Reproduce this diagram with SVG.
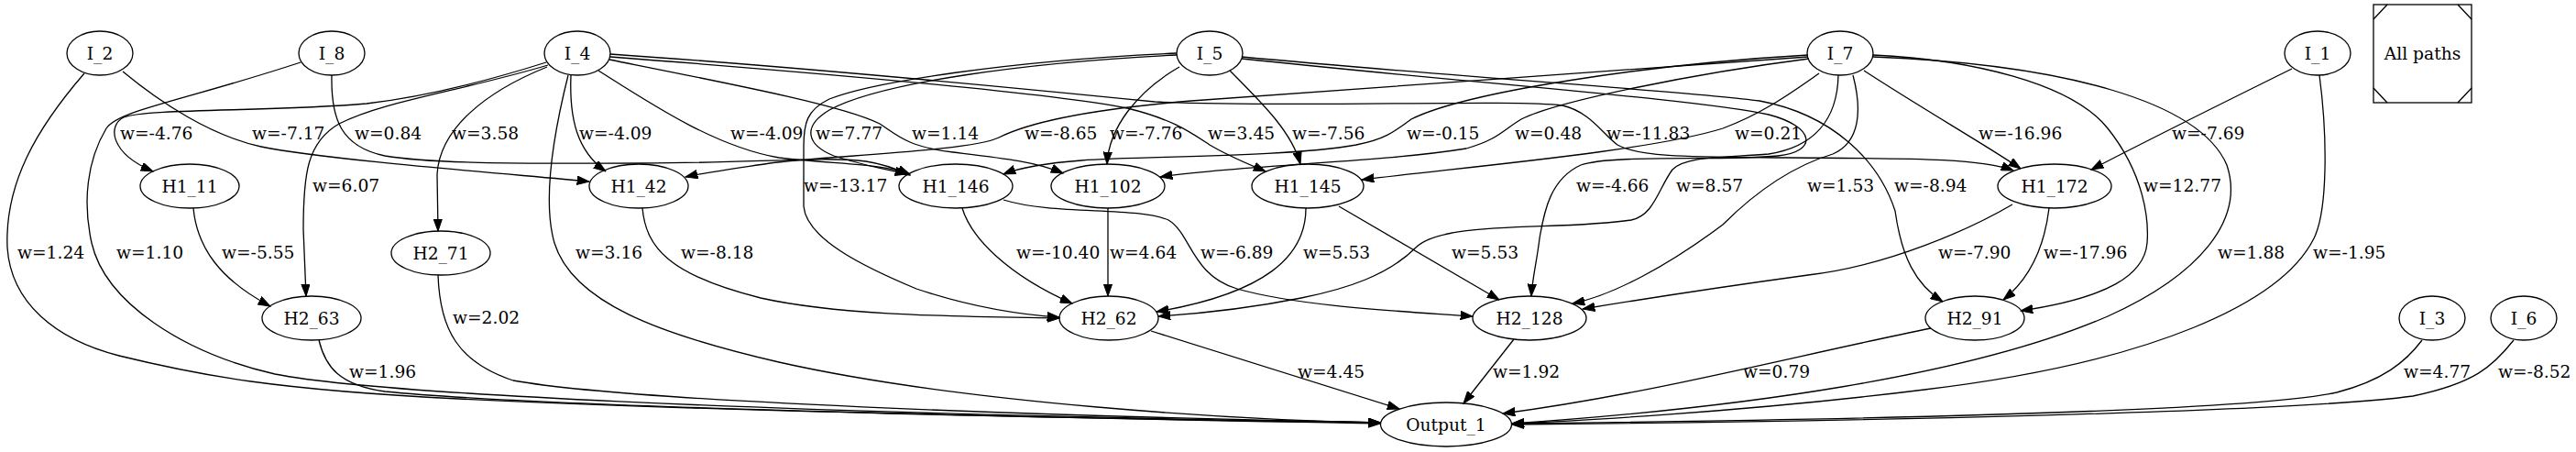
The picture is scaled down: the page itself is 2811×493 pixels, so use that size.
<svg xmlns="http://www.w3.org/2000/svg" width="2811" height="493" viewBox="0 0 2811 493">
<style>
.e{fill:none;stroke:#000;stroke-width:1.3;marker-end:url(#a)}
.n{fill:none;stroke:#000;stroke-width:1.3}
text{font-family:"DejaVu Serif","Liberation Serif",serif;font-size:18.67px;fill:#000}
.c{text-anchor:middle}
</style>
<defs>
<marker id="a" viewBox="0 0 14 10" refX="13.3" refY="5" markerWidth="14" markerHeight="10" orient="auto" markerUnits="userSpaceOnUse">
<path d="M0,0.3 L13.3,5 L0,9.7 z" fill="#000" stroke="#000" stroke-width="1"/>
</marker>
</defs>
<rect width="2811" height="493" fill="#fff"/>
<g id="edges">
<path class="e" d="M596,68 C520,92 460,106 400,113 C300,122 160,118 135,128 C117,137 120,167 167,187"/>
<path class="e" d="M134,78 C175,112 230,148 285,160 C360,175 560,190 643,198"/>
<path class="e" d="M362,82 C361,130 372,160 420,170 C480,180 600,178 700,178 C820,178 900,170 945,176 C965,179 980,185 993,191"/>
<path class="e" d="M597,73 C530,100 480,140 477,190 L478,252"/>
<path class="e" d="M623,82 C621,130 630,165 661,187"/>
<path class="e" d="M653,77 C710,113 780,160 850,172 C920,180 960,178 993,190"/>
<path class="e" d="M1284,60 C1120,68 960,90 905,120 C875,138 880,158 910,170 C940,180 965,184 990,190"/>
<path class="e" d="M665,65 C800,92 920,115 960,135 C980,148 990,160 1040,166 C1090,172 1130,176 1160,189"/>
<path class="e" d="M1973,62 C1800,75 1500,95 1300,110 C1180,120 1120,135 1090,150 C1060,165 900,170 840,178 C800,184 770,188 748,193"/>
<path class="e" d="M1973,60 C1800,70 1600,100 1540,130 C1520,145 1510,152 1480,158 C1400,172 1250,170 1180,175 C1140,178 1110,184 1095,190"/>
<path class="e" d="M1974,64 C1850,80 1700,110 1660,130 C1640,142 1635,152 1600,162 C1500,178 1350,180 1266,193"/>
<path class="e" d="M1985,80 C1950,105 1920,125 1880,140 C1800,165 1600,182 1486,196"/>
<path class="e" d="M2034,77 C2100,120 2170,160 2205,184"/>
<path class="e" d="M2501,75 C2420,115 2330,160 2282,185"/>
<path class="e" d="M2044,60 C2150,65 2260,90 2300,140 C2340,190 2345,240 2343,265 C2340,300 2300,325 2205,339"/>
<path class="e" d="M2044,62 C2250,70 2400,110 2430,180 C2450,240 2400,300 2300,345 C2150,410 1900,445 1650,462"/>
<path class="e" d="M2531,82 C2540,150 2540,230 2525,260 C2490,330 2350,395 2100,425 C1900,450 1700,460 1650,462"/>
<path class="e" d="M1355,62 C1600,85 1850,100 1920,110 C2000,125 2050,175 2068,230 C2075,280 2090,310 2120,329"/>
<path class="e" d="M1355,64 C1600,90 1850,108 1930,125 C1980,138 1985,165 1940,170 C1880,176 1760,168 1725,180 C1692,195 1685,230 1680,260 C1677,285 1672,305 1671,323"/>
<path class="e" d="M2006,82 C2005,130 1980,160 1930,168 C1880,172 1840,170 1825,185 C1810,205 1805,235 1780,240 C1700,252 1575,240 1545,270 C1515,300 1470,315 1420,325 C1370,335 1310,342 1264,345"/>
<path class="e" d="M2022,82 C2032,120 2030,155 2000,168 C1960,180 1920,205 1880,245 C1820,290 1760,322 1716,331"/>
<path class="e" d="M2196,223 C2150,250 2060,290 1973,300 C1900,310 1800,325 1727,337"/>
<path class="e" d="M2236,227 C2232,260 2220,300 2186,327"/>
<path class="e" d="M666,59 C900,75 1150,100 1260,111 C1400,118 1650,108 1705,115 C1735,122 1748,145 1765,158 C1790,172 1850,171 1950,172 C2080,173 2160,172 2197,186"/>
<path class="e" d="M666,62 C900,80 1150,102 1230,118 C1280,130 1300,145 1320,158 C1340,170 1360,178 1381,187"/>
<path class="e" d="M1287,73 C1240,100 1210,140 1208,179"/>
<path class="e" d="M1342,77 C1380,115 1410,145 1419,179"/>
<path class="e" d="M1284,58 C1100,66 950,90 905,108 C880,120 877,135 877,160 L877,225 C880,260 940,290 1000,315 C1060,335 1110,343 1156,346"/>
<path class="e" d="M1050,227 C1060,260 1100,300 1170,331"/>
<path class="e" d="M1209,227 L1209,323"/>
<path class="e" d="M1095,218 C1150,235 1240,225 1275,240 C1300,255 1300,300 1350,315 C1420,335 1540,340 1607,345"/>
<path class="e" d="M1425,227 C1425,280 1380,320 1262,340"/>
<path class="e" d="M1461,225 L1636,327"/>
<path class="e" d="M701,227 C705,270 730,300 830,325 C920,345 1050,345 1156,347"/>
<path class="e" d="M211,227 C215,270 240,305 295,334"/>
<path class="e" d="M598,71 C500,100 420,110 370,135 C335,155 331,190 331,250 L334,323"/>
<path class="e" d="M92,80 C40,140 5,200 8,270 C12,330 60,370 130,388 C220,410 300,425 500,435 C800,450 1300,458 1506,462"/>
<path class="e" d="M328,68 C200,110 130,120 116,140 C95,175 90,220 100,265 C115,330 200,385 300,408 C400,428 800,450 1506,461"/>
<path class="e" d="M620,82 C603,150 592,220 605,265 C625,330 720,365 850,395 C1050,440 1350,458 1506,461"/>
<path class="e" d="M348,371 C355,400 370,420 420,427 C600,445 1200,457 1506,461"/>
<path class="e" d="M478,300 C480,360 500,395 560,415 C700,440 1200,455 1506,461"/>
<path class="e" d="M1256,361 L1527,446"/>
<path class="e" d="M1652,370 L1597,440"/>
<path class="e" d="M2107,358 C1950,390 1800,430 1640,451"/>
<path class="e" d="M2643,371 C2625,395 2600,415 2550,428 C2450,450 2000,458 1650,462"/>
<path class="e" d="M2743,371 C2720,400 2700,418 2633,432 C2500,450 2000,460 1650,463"/>
<text x="131" y="152">w=-4.76</text>
<text x="275" y="152">w=-7.17</text>
<text x="387" y="152">w=0.84</text>
<text x="493" y="152">w=3.58</text>
<text x="632" y="152">w=-4.09</text>
<text x="797" y="152">w=-4.09</text>
<text x="890" y="152">w=7.77</text>
<text x="995" y="152">w=1.14</text>
<text x="1118" y="152">w=-8.65</text>
<text x="1211" y="152">w=-7.76</text>
<text x="1318" y="152">w=3.45</text>
<text x="1410" y="152">w=-7.56</text>
<text x="1535" y="152">w=-0.15</text>
<text x="1653" y="152">w=0.48</text>
<text x="1753" y="152">w=-11.83</text>
<text x="1893" y="152">w=0.21</text>
<text x="2159" y="152">w=-16.96</text>
<text x="2370" y="152">w=-7.69</text>
<text x="341" y="209">w=6.07</text>
<text x="877" y="209">w=-13.17</text>
<text x="1720" y="209">w=-4.66</text>
<text x="1829" y="209">w=8.57</text>
<text x="1972" y="209">w=1.53</text>
<text x="2067" y="209">w=-8.94</text>
<text x="2339" y="209">w=12.77</text>
<text x="19" y="282">w=1.24</text>
<text x="127" y="282">w=1.10</text>
<text x="242" y="282">w=-5.55</text>
<text x="628" y="282">w=3.16</text>
<text x="743" y="282">w=-8.18</text>
<text x="1109" y="282">w=-10.40</text>
<text x="1211" y="282">w=4.64</text>
<text x="1310" y="282">w=-6.89</text>
<text x="1422" y="282">w=5.53</text>
<text x="1584" y="282">w=5.53</text>
<text x="2115" y="282">w=-7.90</text>
<text x="2230" y="282">w=-17.96</text>
<text x="2420" y="282">w=1.88</text>
<text x="2524" y="282">w=-1.95</text>
<text x="494" y="353">w=2.02</text>
<text x="381" y="412">w=1.96</text>
<text x="1416" y="412">w=4.45</text>
<text x="1629" y="412">w=1.92</text>
<text x="1902" y="412">w=0.79</text>
<text x="2623" y="412">w=4.77</text>
<text x="2726" y="412">w=-8.52</text>
</g>
<g id="I_2"><ellipse class="n" cx="109" cy="58" rx="36" ry="24"/><text class="c" x="109" y="64.5">I_2</text></g>
<g id="I_8"><ellipse class="n" cx="362" cy="58" rx="36" ry="24"/><text class="c" x="362" y="64.5">I_8</text></g>
<g id="I_4"><ellipse class="n" cx="630" cy="58" rx="36" ry="24"/><text class="c" x="630" y="64.5">I_4</text></g>
<g id="I_5"><ellipse class="n" cx="1320" cy="58" rx="36" ry="24"/><text class="c" x="1320" y="64.5">I_5</text></g>
<g id="I_7"><ellipse class="n" cx="2008" cy="58" rx="36" ry="24"/><text class="c" x="2008" y="64.5">I_7</text></g>
<g id="I_1"><ellipse class="n" cx="2529" cy="58" rx="36" ry="24"/><text class="c" x="2529" y="64.5">I_1</text></g>
<g id="All_paths"><rect class="n" x="2590" y="5" width="107" height="107"/><path class="n" d="M2590,21 L2605,5 M2682,5 L2697,21 M2590,96 L2605,112 M2682,112 L2697,96"/><text class="c" x="2643.5" y="64.5">All paths</text></g>
<g id="H1_11"><ellipse class="n" cx="207" cy="203" rx="54" ry="24"/><text class="c" x="207" y="209.5">H1_11</text></g>
<g id="H1_42"><ellipse class="n" cx="697" cy="203" rx="54" ry="24"/><text class="c" x="697" y="209.5">H1_42</text></g>
<g id="H1_146"><ellipse class="n" cx="1043" cy="203" rx="62" ry="24"/><text class="c" x="1043" y="209.5">H1_146</text></g>
<g id="H1_102"><ellipse class="n" cx="1209" cy="203" rx="62" ry="24"/><text class="c" x="1209" y="209.5">H1_102</text></g>
<g id="H1_145"><ellipse class="n" cx="1427" cy="203" rx="61" ry="24"/><text class="c" x="1427" y="209.5">H1_145</text></g>
<g id="H1_172"><ellipse class="n" cx="2242" cy="203" rx="62" ry="24"/><text class="c" x="2242" y="209.5">H1_172</text></g>
<g id="H2_71"><ellipse class="n" cx="481" cy="276" rx="54" ry="24"/><text class="c" x="481" y="282.5">H2_71</text></g>
<g id="H2_63"><ellipse class="n" cx="340" cy="347" rx="54" ry="24"/><text class="c" x="340" y="353.5">H2_63</text></g>
<g id="H2_62"><ellipse class="n" cx="1210" cy="347" rx="54" ry="24"/><text class="c" x="1210" y="353.5">H2_62</text></g>
<g id="H2_128"><ellipse class="n" cx="1669" cy="347" rx="62" ry="24"/><text class="c" x="1669" y="353.5">H2_128</text></g>
<g id="H2_91"><ellipse class="n" cx="2155" cy="347" rx="54" ry="24"/><text class="c" x="2155" y="353.5">H2_91</text></g>
<g id="I_3"><ellipse class="n" cx="2654" cy="347" rx="36" ry="24"/><text class="c" x="2654" y="353.5">I_3</text></g>
<g id="I_6"><ellipse class="n" cx="2754" cy="347" rx="36" ry="24"/><text class="c" x="2754" y="353.5">I_6</text></g>
<g id="Output_1"><ellipse class="n" cx="1578" cy="463" rx="71.5" ry="24"/><text class="c" x="1578" y="469.5">Output_1</text></g>
</svg>
